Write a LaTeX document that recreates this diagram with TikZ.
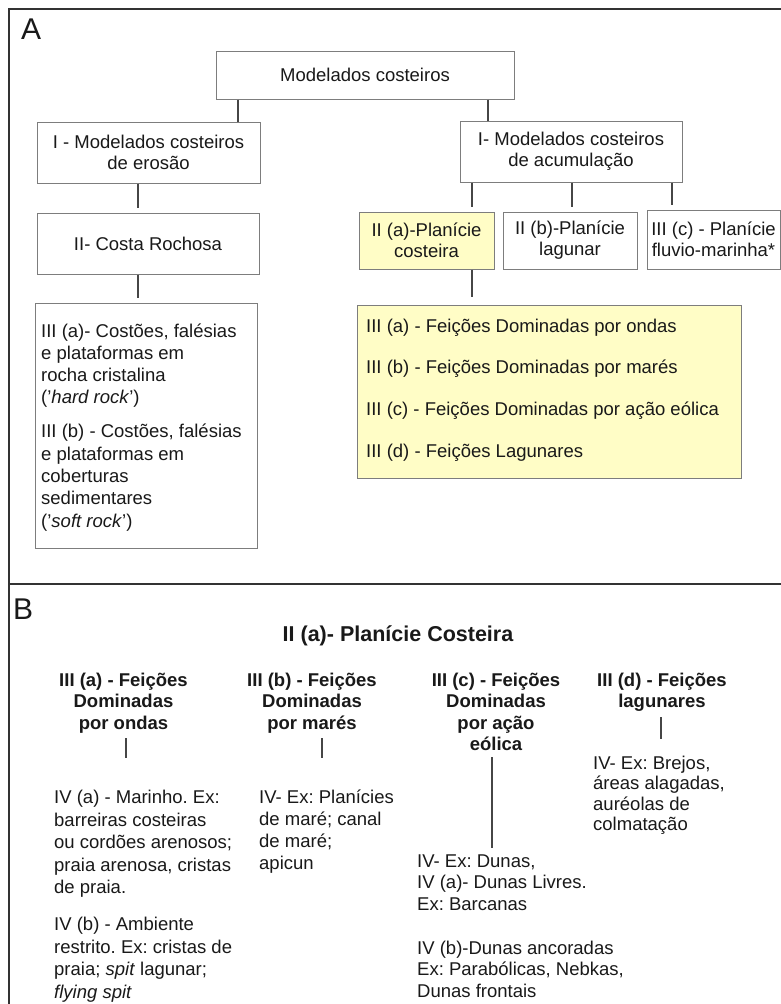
\documentclass[tikz,border=0pt]{standalone}
\usepackage{fontspec}
\setmainfont{Liberation Sans}
\frenchspacing
\definecolor{boxgray}{RGB}{125,125,125}
\definecolor{conngray}{RGB}{70,70,70}
\definecolor{framegray}{RGB}{50,50,50}
\definecolor{txt}{RGB}{25,25,25}
\definecolor{paleyellow}{RGB}{255,253,198}
\newcommand\myfA{\fontsize{18.5}{21}\selectfont}
\begin{document}
\begin{tikzpicture}[x=1pt,y=-1pt,
  every node/.style={text=txt},
  box/.style={draw=boxgray, line width=1pt, inner sep=0pt, align=center, font=\myfA},
  ybox/.style={box, fill=paleyellow},
  conn/.style={draw=conngray, line width=1.2pt},
  frame/.style={draw=framegray, line width=1.6pt},
  plain/.style={inner sep=0pt},
  hdr/.style={inner sep=0pt, anchor=base, font=\bfseries\fontsize{18.5}{21.5}\selectfont}
]
\useasboundingbox (0,0) rectangle (781,1004);
\fill[white] (0,0) rectangle (781,1004);
% frames
\draw[frame] (781,9) -- (9,9) -- (9,1004);
\draw[frame] (9,584) -- (781,584);
\node[plain, anchor=base west, font=\fontsize{30}{30}\selectfont] (labA) at (21,39) {A};
\node[plain, anchor=base west, font=\fontsize{30}{30}\selectfont] (labB) at (13,619) {B};

% ---- Panel A ----
\node[box, minimum width=298, minimum height=48] (top) at (365,75) {Modelados costeiros};
\node[box, minimum width=223, minimum height=61] (eros) at (148.5,152.5) {I - Modelados costeiros\\de erosão};
\node[box, minimum width=222, minimum height=61] (acum) at (571,151.5) {I- Modelados costeiros\\de acumulação};
\node[box, minimum width=222, minimum height=61] (costa) at (148,243.5) {II- Costa Rochosa};
\node[ybox, minimum width=135, minimum height=57] (pa) at (426.5,240.5) {II (a)-Planície\\costeira};
\node[box, minimum width=134, minimum height=57] (pb) at (570,240.5) {II (b)-Planície\\lagunar};
\node[box, minimum width=133, minimum height=59] (pc) at (713.5,239.5) {III (c) - Planície\\fluvio-marinha*};
\node[box, minimum width=222, minimum height=245] (lb) at (146,425.5) {};
\node[plain, anchor=base west, font=\fontsize{18.5}{22.3}\selectfont] (lbt) at (41,337)
  {\parbox[t]{214pt}{\raggedright III (a)- Costões, falésias\\e plataformas em\\rocha cristalina\\('\textit{hard rock}')\\[11.7pt]III (b) - Costões, falésias\\e plataformas em\\coberturas\\sedimentares\\('\textit{soft rock}')}};
\node[ybox, minimum width=384, minimum height=173] (yb) at (549,391.5) {};
\node[plain, anchor=base west, font=\fontsize{18.5}{41.7}\selectfont] (ybt) at (366,332)
  {\parbox[t]{370pt}{\raggedright III (a) - Feições Dominadas por ondas\\III (b) - Feições Dominadas por marés\\III (c) - Feições Dominadas por ação eólica\\III (d) - Feições Lagunares}};

\coordinate (x1) at (238,0);
\coordinate (x2) at (488,0);
\coordinate (x3) at (138,0);
\coordinate (x4) at (472,0);
\coordinate (x5) at (572,0);
\coordinate (x6) at (672,0);
\draw[conn] (top.south -| x1) -- (eros.north -| x1);
\draw[conn] (top.south -| x2) -- (acum.north -| x2);
\draw[conn, shorten >=5pt] (eros.south -| x3) -- (costa.north -| x3);
\draw[conn, shorten >=5pt] (costa.south -| x3) -- (lb.north -| x3);
\draw[conn, shorten >=5pt] (acum.south -| x4) -- (pa.north -| x4);
\draw[conn, shorten >=5pt] (acum.south -| x5) -- (pb.north -| x5);
\draw[conn, shorten >=5pt] (acum.south -| x6) -- (pc.north -| x6);
\draw[conn, shorten >=8pt] (pa.south -| x4) -- (yb.north -| x4);

% ---- Panel B ----
\node[plain, anchor=base, font=\bfseries\fontsize{21.5}{24}\selectfont] (title) at (398,641) {II (a)- Planície Costeira};
\node[hdr] (ha) at (123.5,686) {\parbox[t]{170pt}{\centering III (a) - Feições\\Dominadas\\por ondas}};
\node[hdr] (hb) at (312,686) {\parbox[t]{170pt}{\centering III (b) - Feições\\Dominadas\\por marés}};
\node[hdr] (hc) at (496,686) {\parbox[t]{170pt}{\centering III (c) - Feições\\Dominadas\\por ação\\eólica}};
\node[hdr] (hd) at (662,686) {\parbox[t]{170pt}{\centering III (d) - Feições\\lagunares}};

\node[plain, anchor=base west, font=\fontsize{18.5}{22.5}\selectfont] (ta) at (54,803.5)
  {\parbox[t]{200pt}{\raggedright IV (a) - Marinho. Ex:\\barreiras costeiras\\ou cordões arenosos;\\praia arenosa, cristas\\de praia.\\[14.5pt]IV (b) - Ambiente\\restrito. Ex: cristas de\\praia; \textit{spit} lagunar;\\\textit{flying spit}}};
\node[plain, anchor=base west, font=\fontsize{18.5}{22.2}\selectfont] (tb) at (259,803)
  {\parbox[t]{150pt}{\raggedright IV- Ex: Planícies\\de maré; canal\\de maré;\\apicun}};
\node[plain, anchor=base west, font=\fontsize{18.5}{21.5}\selectfont] (tc) at (417,867)
  {\parbox[t]{230pt}{\raggedright IV- Ex: Dunas,\\IV (a)- Dunas Livres.\\Ex: Barcanas\\[22.5pt]IV (b)-Dunas ancoradas\\Ex: Parabólicas, Nebkas,\\Dunas frontais}};
\node[plain, anchor=base west, font=\fontsize{18.5}{20.5}\selectfont] (td) at (593,769)
  {\parbox[t]{170pt}{\raggedright IV- Ex: Brejos,\\áreas alagadas,\\auréolas de\\colmatação}};

\coordinate (xa) at (126,0);
\coordinate (xb) at (322,0);
\coordinate (xc) at (492,0);
\coordinate (xd) at (661,0);
\draw[conn] (ha.south -| xa) ++(0,5) -- ++(0,20);
\draw[conn] (hb.south -| xb) ++(0,5) -- ++(0,20);
\draw[conn] (hc.south -| xc) ++(0,6.5) -- ++(0,91);
\draw[conn] (hd.south -| xd) ++(0,5.5) -- ++(0,22);
\end{tikzpicture}
\end{document}
